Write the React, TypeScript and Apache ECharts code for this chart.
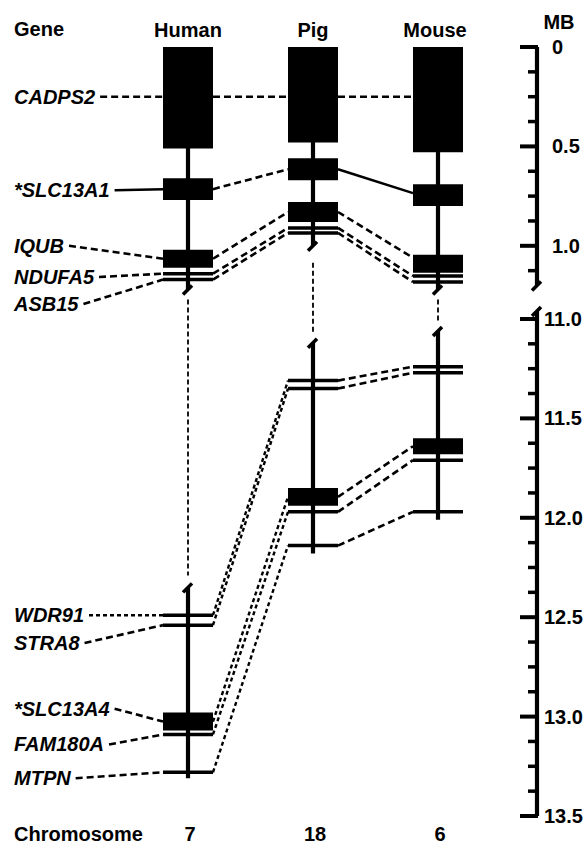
import React, { useEffect, useRef } from 'react';
import * as echarts from 'echarts';

// ---------- data (Mb positions) ----------
const SPECIES = ['Human', 'Pig', 'Mouse'];
const CHROMOSOMES = ['7', '18', '6'];
const GENES = ['CADPS2', '*SLC13A1', 'IQUB', 'NDUFA5', 'ASB15', 'WDR91', 'STRA8', '*SLC13A4', 'FAM180A', 'MTPN'];

const HUMAN_START = [0, 0.66, 1.02, 1.14, 1.17, 12.49, 12.54, 12.98, 13.09, 13.28];
const HUMAN_END = [0.51, 0.77, 1.11, 1.14, 1.17, 12.49, 12.54, 13.07, 13.09, 13.28];
const PIG_START = [0, 0.56, 0.78, 0.91, 0.935, 11.31, 11.35, 11.85, 11.97, 12.14];
const PIG_END = [0.48, 0.67, 0.88, 0.91, 0.935, 11.31, 11.35, 11.94, 11.97, 12.14];
const MOUSE_START = [0, 0.69, 1.045, 1.152, 1.182, 11.24, 11.27, 11.6, 11.71, 11.97];
const MOUSE_END = [0.53, 0.8, 1.135, 1.152, 1.182, 11.24, 11.27, 11.68, 11.71, 11.97];

// where the connecting lines meet each gene (Mb)
const HUMAN_LINK = [0.25, 0.715, 1.065, 1.14, 1.17, 12.49, 12.54, 13.025, 13.09, 13.28];
const PIG_LINK = [0.25, 0.615, 0.83, 0.91, 0.935, 11.31, 11.35, 11.895, 11.97, 12.14];
const MOUSE_LINK = [0.25, 0.735, 1.06, 1.152, 1.182, 11.24, 11.27, 11.64, 11.71, 11.97];

// where each gene name is written (Mb on the scale)
const LABEL_Y = [0.25, 0.72, 1.0, 1.157, 1.293, 12.49, 12.63, 12.96, 13.14, 13.31];
const LABEL_LINE = ['dashed', 'solid', 'dashed', 'dashed', 'dashed', 'fine', 'dashed', 'dashed', 'dashed', 'dashed'];
const HUMAN_PIG_LINE = ['dashed', 'dashed', 'dashed', 'dashed', 'dashed', 'fine', 'fine', 'fine', 'fine', 'fine'];
const PIG_MOUSE_LINE = ['dashed', 'solid', 'dashed', 'dashed', 'dashed', 'dashed', 'dashed', 'dashed', 'dashed', 'dashed'];

// chromosome segments [start, end] and the dotted gap between them
const HUMAN_SEGMENTS = [[0, 1.22], [12.35, 13.31]];
const PIG_SEGMENTS = [[0, 1.0], [11.12, 12.18]];
const MOUSE_SEGMENTS = [[0, 1.22], [11.06, 12.01]];
const HUMAN_GAP = [1.27, 12.29];
const PIG_GAP = [1.085, 11.07];
const MOUSE_GAP = [1.27, 11.015];

// scale bar
const SCALE_SEGMENTS = [[0, 1.2], [10.96, 13.5]];
const SCALE_MAJOR = [0, 0.5, 1.0, 11.0, 11.5, 12.0, 12.5, 13.0, 13.5];
const SCALE_LABELS = ['0', '0.5', '1.0', '11.0', '11.5', '12.0', '12.5', '13.0', '13.5'];
const SCALE_MINOR = [0.125, 0.25, 0.375, 0.625, 0.75, 0.875, 1.125,
  11.125, 11.25, 11.375, 11.625, 11.75, 11.875, 12.125, 12.25, 12.375,
  12.625, 12.75, 12.875, 13.125, 13.25, 13.375];

// ---------- layout ----------
const COL_X = [188, 313, 438];
const HALF_W = 25;
const SCALE_X = 537;
const LABEL_X = 14;
const LOWER_OFFSET = 1.368; // drawn position of 11.0 Mb below the break
const t = (v: number) => (v > 6 ? v - 11 + LOWER_OFFSET : v);
const Y_MAX = t(13.5);
const FONT = '"Liberation Sans", Arial, sans-serif';
const FS = 20;

const DASH: Record<string, number[] | null> = {
  solid: null,
  dashed: [7, 4],
  fine: [4, 3],
  gap: [5, 3],
};
const WIDTH: Record<string, number> = { solid: 2.5, dashed: 2.6, fine: 2.4, gap: 1.8 };

function measure(text: string, font: string) {
  const c = document.createElement('canvas').getContext('2d');
  if (!c) return text.length * 11;
  c.font = font;
  return c.measureText(text).width;
}

export default function App() {
  const ref = useRef<HTMLDivElement>(null);

  useEffect(() => {
    if (!ref.current) return;
    const chart = echarts.init(ref.current, undefined, { renderer: 'svg' });

    const starts = [HUMAN_START, PIG_START, MOUSE_START];
    const ends = [HUMAN_END, PIG_END, MOUSE_END];
    const linkY = [HUMAN_LINK, PIG_LINK, MOUSE_LINK];

    // connector / leader lines
    const links: { d: number[]; style: string }[] = [];
    GENES.forEach((name, g) => {
      const w = measure(name, `italic bold ${FS}px ${FONT}`);
      links.push({ d: [LABEL_X + w + 5, t(LABEL_Y[g]), COL_X[0] - HALF_W, t(linkY[0][g])], style: LABEL_LINE[g] });
      links.push({ d: [COL_X[0] + HALF_W, t(linkY[0][g]), COL_X[1] - HALF_W, t(linkY[1][g])], style: HUMAN_PIG_LINE[g] });
      links.push({ d: [COL_X[1] + HALF_W, t(linkY[1][g]), COL_X[2] - HALF_W, t(linkY[2][g])], style: PIG_MOUSE_LINE[g] });
    });
    [HUMAN_GAP, PIG_GAP, MOUSE_GAP].forEach((gp, s) => {
      links.push({ d: [COL_X[s], t(gp[0]), COL_X[s], t(gp[1])], style: 'gap' });
    });

    // chromosome segments: [x, start, end, topBreak, bottomBreak]
    const segs: number[][] = [];
    [HUMAN_SEGMENTS, PIG_SEGMENTS, MOUSE_SEGMENTS].forEach((ss, s) => {
      segs.push([COL_X[s], t(ss[0][0]), t(ss[0][1]), 0, 1]);
      segs.push([COL_X[s], t(ss[1][0]), t(ss[1][1]), 1, 0]);
    });
    segs.push([SCALE_X, t(SCALE_SEGMENTS[0][0]), t(SCALE_SEGMENTS[0][1]), 0, 1]);
    segs.push([SCALE_X, t(SCALE_SEGMENTS[1][0]), t(SCALE_SEGMENTS[1][1]), 1, 0]);

    // gene marks: [x, start, end]
    const genes: number[][] = [];
    for (let s = 0; s < 3; s++) {
      GENES.forEach((_, g) => genes.push([COL_X[s], t(starts[s][g]), t(ends[s][g])]));
    }

    const ticks: number[][] = [
      ...SCALE_MAJOR.map((v) => [SCALE_X, t(v), 1, v]),
      ...SCALE_MINOR.map((v) => [SCALE_X, t(v), 0, v]),
    ];

    const slash = (x: number, y: number) => ({
      type: 'line',
      shape: { x1: x - 5, y1: y + 5, x2: x + 4, y2: y - 4 },
      style: { stroke: '#000', lineWidth: 3.5 },
    });

    const text = (s: string, x: number, y: number, align: string, italic = false) => ({
      type: 'text',
      x,
      y,
      style: {
        text: s,
        fill: '#000',
        fontSize: FS,
        fontWeight: 'bold',
        fontStyle: italic ? 'italic' : 'normal',
        fontFamily: FONT,
        align,
        verticalAlign: 'middle',
      },
    });

    const option: any = {
      animation: false,
      backgroundColor: '#fff',
      grid: { left: 0, right: 0, top: 47, bottom: 31 },
      xAxis: { type: 'value', min: 0, max: 586, show: false },
      yAxis: { type: 'value', min: 0, max: Y_MAX, inverse: true, show: false },
      graphic: [
        text('Gene', LABEL_X, 29, 'left'),
        ...SPECIES.map((s, i) => text(s, COL_X[i] - (i === 2 ? 3 : 0), 30, 'center')),
        text('MB', 559, 22, 'center'),
        text('Chromosome', LABEL_X, 834, 'left'),
        ...CHROMOSOMES.map((c, i) => text(c, COL_X[i] + 2, 834, 'center')),
      ],
      series: [
        {
          type: 'custom',
          name: 'links',
          data: links.map((l) => l.d),
          renderItem: (p: any, api: any) => {
            const st = links[p.dataIndex].style;
            const a = api.coord([api.value(0), api.value(1)]);
            const b = api.coord([api.value(2), api.value(3)]);
            return {
              type: 'line',
              shape: { x1: a[0], y1: a[1], x2: b[0], y2: b[1] },
              style: { stroke: '#000', lineWidth: WIDTH[st], lineDash: DASH[st] || undefined, fill: null },
            };
          },
        },
        {
          type: 'custom',
          name: 'chromosomes',
          data: segs,
          renderItem: (p: any, api: any) => {
            const x = api.value(0);
            const a = api.coord([x, api.value(1)]);
            const b = api.coord([x, api.value(2)]);
            const children: any[] = [
              { type: 'line', shape: { x1: a[0], y1: a[1], x2: b[0], y2: b[1] }, style: { stroke: '#000', lineWidth: 4.2 } },
            ];
            if (api.value(3)) children.push(slash(a[0], a[1]));
            if (api.value(4)) children.push(slash(b[0], b[1]));
            return { type: 'group', children };
          },
        },
        {
          type: 'custom',
          name: 'genes',
          data: genes,
          renderItem: (p: any, api: any) => {
            const x = api.value(0);
            const a = api.coord([x - HALF_W, api.value(1)]);
            const b = api.coord([x + HALF_W, api.value(2)]);
            if (b[1] - a[1] < 2) {
              return {
                type: 'line',
                shape: { x1: a[0], y1: a[1], x2: b[0], y2: a[1] },
                style: { stroke: '#000', lineWidth: 3.5 },
              };
            }
            return {
              type: 'rect',
              shape: { x: a[0], y: a[1], width: b[0] - a[0], height: b[1] - a[1] },
              style: { fill: '#000' },
            };
          },
        },
        {
          type: 'custom',
          name: 'geneLabels',
          data: GENES.map((_, g) => [LABEL_X, t(LABEL_Y[g])]),
          renderItem: (p: any, api: any) => {
            const c = api.coord([api.value(0), api.value(1)]);
            return text(GENES[p.dataIndex], c[0], c[1], 'left', true);
          },
        },
        {
          type: 'custom',
          name: 'scale',
          data: ticks,
          renderItem: (p: any, api: any) => {
            const c = api.coord([api.value(0), api.value(1)]);
            const major = api.value(2) === 1;
            const children: any[] = [
              {
                type: 'line',
                shape: { x1: c[0] - (major ? 17 : 9), y1: c[1], x2: c[0] + 1, y2: c[1] },
                style: { stroke: '#000', lineWidth: major ? 4 : 3.5 },
              },
            ];
            if (major) {
              const idx = p.dataIndex;
              const upper = api.value(3) < 6;
              children.push(text(SCALE_LABELS[idx], c[0] + (upper ? 15 : 7), c[1], 'left'));
            }
            return { type: 'group', children };
          },
        },
      ],
    };

    chart.setOption(option);
    return () => chart.dispose();
  }, []);

  return (
    <div
      ref={ref}
      style={{ position: 'absolute', left: 0, top: 0, width: 586, height: 847, background: '#fff' }}
    />
  );
}
